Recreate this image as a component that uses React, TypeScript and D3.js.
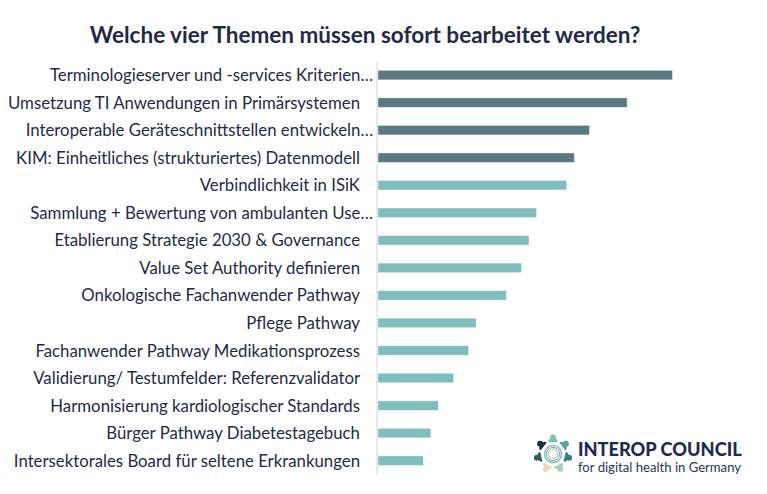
import React from "react";
import * as d3 from "d3";

const categories = [
  "Terminologieserver und -services Kriterien…",
  "Umsetzung TI Anwendungen in Primärsystemen",
  "Interoperable Geräteschnittstellen entwickeln…",
  "KIM: Einheitliches (strukturiertes) Datenmodell",
  "Verbindlichkeit in ISiK",
  "Sammlung + Bewertung von ambulanten Use…",
  "Etablierung Strategie 2030 & Governance",
  "Value Set Authority definieren",
  "Onkologische Fachanwender Pathway",
  "Pflege Pathway",
  "Fachanwender Pathway Medikationsprozess",
  "Validierung/ Testumfelder: Referenzvalidator",
  "Harmonisierung kardiologischer Standards",
  "Bürger Pathway Diabetestagebuch",
  "Intersektorales Board für seltene Erkrankungen",
];
const votes = [39, 33, 28, 26, 25, 21, 20, 19, 17, 13, 12, 10, 8, 7, 6];
const topCount = 4;

const title = "Welche vier Themen müssen sofort bearbeitet werden?";
const logoTitle = "INTEROP COUNCIL";
const logoSub = "for digital health in Germany";
const logoColors = ["#7fbdbe", "#5f9ea6", "#3f7a86", "#a9cdb6", "#ecd8b4", "#2f5e55", "#1f2a50"];

const W = 767;
const H = 494;
const NAVY = "#1f2a48";

export default function App() {
  const y = d3
    .scaleBand<string>()
    .domain(categories)
    .range([61.3, 474.4])
    .paddingInner(0.655)
    .paddingOuter(0.3275);
  const x = d3.scaleLinear().domain([0, 40]).range([378, 680]);
  const labelFont = "Lato, 'Open Sans', sans-serif";

  const logoCx = 553;
  const logoCy = 454;
  const angle = d3.scaleLinear().domain([0, logoColors.length]).range([-90, 270]);

  return (
    <svg
      width={W}
      height={H}
      style={{ position: "absolute", left: 0, top: 0, background: "#fff" }}
    >
      <text
        x={365}
        y={43}
        textAnchor="middle"
        fontFamily={labelFont}
        fontWeight={700}
        fontSize={22.5}
        fill={NAVY}
      >
        {title}
      </text>

      {categories.map((c, i) => {
        const cy = (y(c) ?? 0) + y.bandwidth() / 2;
        const truncated = c.endsWith("…");
        return (
          <g key={c}>
            <rect
              x={x(0)}
              y={y(c)}
              width={x(votes[i]) - x(0)}
              height={y.bandwidth()}
              fill={i < topCount ? "#5a7982" : "#7fbdbe"}
              stroke="#ffffff"
              strokeOpacity={0.5}
              strokeWidth={0.8}
            />
            <text
              x={truncated ? 373 : 360}
              y={cy}
              dy="0.36em"
              textAnchor="end"
              fontFamily={labelFont}
              fontSize={16.8}
              fill={NAVY}
            >
              {c}
            </text>
          </g>
        );
      })}

      <line x1={377} x2={377} y1={61.5} y2={474.5} stroke="#d9dbea" strokeWidth={1.2} />

      {/* Logo */}
      <g>
        {logoColors.map((col, i) => {
          const a = (angle(i) * Math.PI) / 180;
          const hx = logoCx + Math.cos(a) * 16.5;
          const hy = logoCy + Math.sin(a) * 16.5;
          const bx = logoCx + Math.cos(a) * 12;
          const by = logoCy + Math.sin(a) * 12;
          const deg = angle(i) + 90;
          return (
            <g key={i}>
              <circle cx={hx} cy={hy} r={3} fill={col} />
              <path
                d="M -5 0 A 5 4 0 0 1 5 0 Z"
                transform={`translate(${bx},${by}) rotate(${deg})`}
                fill={col}
              />
            </g>
          );
        })}
        <circle cx={logoCx} cy={logoCy} r={8.5} fill="none" stroke="#7fbdbe" strokeWidth={1.5} />
        <circle cx={logoCx} cy={logoCy} r={6.5} fill="none" stroke="#5a7982" strokeWidth={0.8} />
        <circle cx={logoCx} cy={logoCy} r={4.5} fill="none" stroke="#a9cdb6" strokeWidth={1} />
        <text
          x={578}
          y={456}
          fontFamily={labelFont}
          fontWeight={900}
          fontSize={18.2}
          fill="#1f2a50"
        >
          {logoTitle}
        </text>
        <text x={578} y={472} fontFamily={labelFont} fontSize={13.1} fill="#2a3560">
          {logoSub}
        </text>
      </g>
    </svg>
  );
}
